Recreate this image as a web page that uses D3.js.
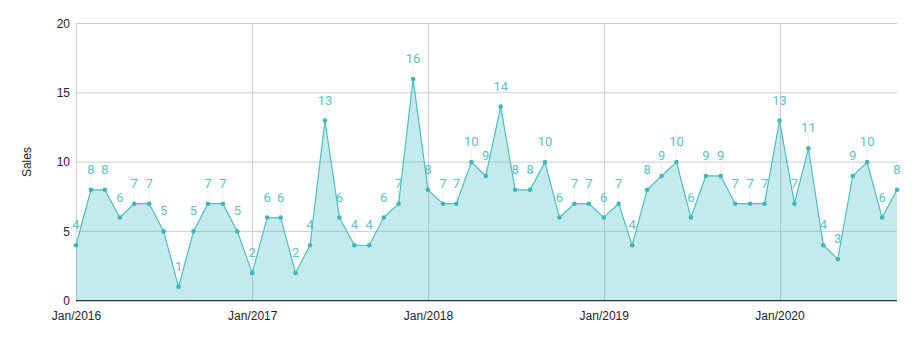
<!DOCTYPE html>
<html><head><meta charset="utf-8">
<script src="https://cdn.jsdelivr.net/npm/d3@7"></script>
<style>body{margin:0;background:#fff}svg{display:block}</style>
</head><body><svg id="c" width="914" height="338"></svg>
<script>
const months = [];
for (let y = 2016; y <= 2020; y++) for (let m = 0; m < 12; m++) { if (y === 2020 && m > 8) break; months.push(new Date(y, m, 1)); }
const sales = [4,8,8,6,7,7,5,1,5,7,7,5,
  2,6,6,2,4,13,6,4,4,6,7,16,
  8,7,7,10,9,14,8,8,10,6,7,7,
  6,7,4,8,9,10,6,9,9,7,7,7,
  13,7,11,4,3,9,10,6,8];
const yTicks = [0,5,10,15,20];
const xTickYears = [2016,2017,2018,2019,2020];
const yLabel = "Sales";

const data = months.map((d,i)=>({date:d, v:sales[i]}));
const svg = d3.select("#c");
const L = 76, R = 897, T = 23.5, B = 300.7;
const x = d3.scaleTime().domain([months[0], months[months.length-1]]).range([L, R]);
const y = d3.scaleLinear().domain([0,20]).range([B, T]);
const fmt = d3.timeFormat("%b/%Y");

// horizontal grid
svg.append("g").selectAll("line").data(yTicks.slice(1)).join("line")
  .attr("x1", L).attr("x2", R).attr("y1", d=>y(d)).attr("y2", d=>y(d))
  .attr("stroke", "#cccccc").attr("stroke-width", 1);
// vertical grid
const xt = xTickYears.map(yr => new Date(yr,0,1));
svg.append("g").selectAll("line").data(xt).join("line")
  .attr("x1", d=>Math.round(x(d))+0.5).attr("x2", d=>Math.round(x(d))+0.5).attr("y1", T).attr("y2", B)
  .attr("stroke", "#cccccc").attr("stroke-width", 1);

// area
svg.append("path").datum(data)
  .attr("d", d3.area().x(d=>x(d.date)).y0(y(0)).y1(d=>y(d.v)))
  .attr("fill", "#4cbec5").attr("fill-opacity", 0.32);

// gridlines over area (lighter look inside area)
svg.append("g").selectAll("line").data(yTicks.slice(1)).join("line")
  .attr("x1", L).attr("x2", R).attr("y1", d=>y(d)).attr("y2", d=>y(d))
  .attr("stroke", "#9cc9cc").attr("stroke-width", 1).attr("stroke-opacity", 0.0);

// leader lines
svg.append("g").selectAll("line").data(data).join("line")
  .attr("x1", d=>x(d.date)).attr("x2", d=>x(d.date))
  .attr("y1", d=>y(d.v)-3).attr("y2", d=>y(d.v)-14)
  .attr("stroke", "#eeeeee").attr("stroke-width", 1);

// line
svg.append("path").datum(data)
  .attr("d", d3.line().x(d=>x(d.date)).y(d=>y(d.v)))
  .attr("fill", "none").attr("stroke", "#4cbec5").attr("stroke-width", 1.2);

// points
svg.append("g").selectAll("circle").data(data).join("circle")
  .attr("cx", d=>x(d.date)).attr("cy", d=>y(d.v)).attr("r", 2.3)
  .attr("fill", "#3fb5bc");

// value labels
svg.append("g").selectAll("text").data(data).join("text")
  .attr("x", d=>x(d.date)).attr("y", d=>y(d.v)-16)
  .attr("text-anchor", "middle")
  .attr("font-family", "Roboto, sans-serif").attr("font-size", 13)
  .attr("fill", "#5cc1c7")
  .text(d=>d.v);

// x axis baseline
svg.append("line").attr("x1", L).attr("x2", R).attr("y1", B).attr("y2", B)
  .attr("stroke", "#333").attr("stroke-width", 1.3);

// axes labels
const ax = svg.append("g").attr("transform", `translate(0,${B})`)
  .call(d3.axisBottom(x).tickValues(xt).tickFormat(fmt).tickSize(0).tickPadding(11));
ax.select(".domain").remove();
ax.selectAll("text").attr("font-family", "Arial, 'Liberation Sans', sans-serif").attr("font-size", 12).attr("fill", "#222");

const ay = svg.append("g").attr("transform", `translate(${L},0)`)
  .call(d3.axisLeft(y).tickValues(yTicks).tickSize(0).tickPadding(6));
ay.select(".domain").remove();
ay.selectAll("text").attr("font-family", "Arial, 'Liberation Sans', sans-serif").attr("font-size", 12).attr("fill", "#222");

svg.append("text").attr("transform", `translate(31,${(T+B)/2}) rotate(-90)`)
  .attr("text-anchor", "middle").attr("font-family", "Arial, 'Liberation Sans', sans-serif")
  .attr("font-size", 12).attr("fill", "#222").text(yLabel);
</script></body></html>
